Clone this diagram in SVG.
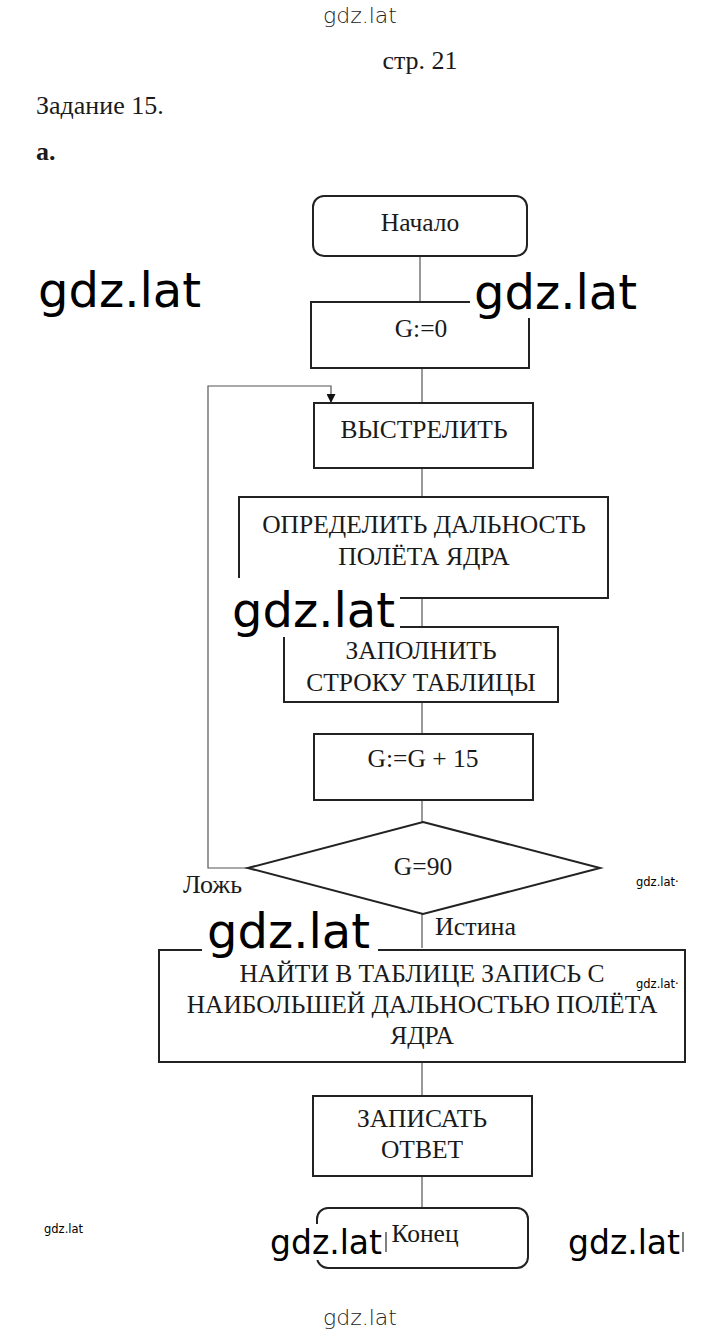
<svg xmlns="http://www.w3.org/2000/svg" width="720" height="1333" viewBox="0 0 720 1333">
<style>
.box{fill:#fff;stroke:#222;stroke-width:2}
.ln{fill:none;stroke:#555;stroke-width:1.2}
.t{font-family:"Liberation Serif","Times New Roman",serif;font-size:25.5px;fill:#1a1a1a;text-anchor:middle}
.tl{font-family:"Liberation Serif","Times New Roman",serif;font-size:26px;fill:#1a1a1a}
.wm{font-family:"DejaVu Sans",sans-serif;font-size:48px;fill:#000}
.wmb{font-family:"DejaVu Sans",sans-serif;font-size:33px;fill:#000}
.wms{font-family:"DejaVu Sans",sans-serif;font-size:11.5px;fill:#000}
.wmt{font-family:"DejaVu Sans",sans-serif;font-size:22px;fill:#222;font-weight:300}
</style>
<defs>
<marker id="arr" viewBox="0 0 10 10" refX="10" refY="5" markerWidth="9" markerHeight="9" markerUnits="userSpaceOnUse" orient="auto">
<path d="M0,0 L10,5 L0,10 Z" fill="#111"/>
</marker>
</defs>
<rect width="720" height="1333" fill="#fff"/>

<g id="header">
<text class="wmt" x="360" y="23" text-anchor="middle">gdz.lat</text>
<text class="tl" x="420" y="69" text-anchor="middle">стр. 21</text>
<text class="tl" x="36" y="114">Задание 15.</text>
<text class="tl" x="36" y="160" font-weight="bold">а.</text>
</g>

<g id="connectors">
<line class="ln" x1="420" y1="256" x2="420" y2="302"/>
<line class="ln" x1="422" y1="368" x2="422" y2="403"/>
<line class="ln" x1="422" y1="468" x2="422" y2="497"/>
<line class="ln" x1="422" y1="598" x2="422" y2="627"/>
<line class="ln" x1="422" y1="702" x2="422" y2="734"/>
<line class="ln" x1="422" y1="800" x2="422" y2="822"/>
<line class="ln" x1="422" y1="914" x2="422" y2="948"/>
<line class="ln" x1="422" y1="1062" x2="422" y2="1096"/>
<line class="ln" x1="422" y1="1176" x2="422" y2="1208"/>
<polyline class="ln" points="248,868 208,868 208,386 331,386 331,403" marker-end="url(#arr)"/>
</g>

<g id="start">
<rect class="box" x="313" y="196" width="214" height="60" rx="11"/>
<text class="t" x="420" y="231">Начало</text>
</g>
<g id="init">
<rect class="box" x="311" y="302" width="218" height="66"/>
<text class="t" x="421" y="337">G:=0</text>
</g>
<g id="shoot">
<rect class="box" x="314" y="403" width="219" height="65"/>
<text class="t" x="424" y="438">ВЫСТРЕЛИТЬ</text>
</g>
<g id="measure">
<rect class="box" x="239" y="497" width="369" height="101"/>
<text class="t" x="424" y="533">ОПРЕДЕЛИТЬ ДАЛЬНОСТЬ</text>
<text class="t" x="424" y="565">ПОЛЁТА ЯДРА</text>
</g>
<g id="fill">
<rect class="box" x="284" y="627" width="274" height="75"/>
<text class="t" x="421" y="659">ЗАПОЛНИТЬ</text>
<text class="t" x="421" y="691">СТРОКУ ТАБЛИЦЫ</text>
</g>
<g id="inc">
<rect class="box" x="314" y="734" width="219" height="66"/>
<text class="t" x="423" y="767">G:=G + 15</text>
</g>
<g id="cond">
<polygon class="box" points="423,822 600,868 423,914 248,868"/>
<text class="t" x="423" y="875">G=90</text>
<text class="tl" x="183" y="893">Ложь</text>
<text class="tl" x="435" y="935">Истина</text>
</g>
<g id="find">
<rect class="box" x="159" y="950" width="526" height="112"/>
<text class="t" x="422" y="982">НАЙТИ В ТАБЛИЦЕ ЗАПИСЬ С</text>
<text class="t" x="422" y="1013">НАИБОЛЬШЕЙ ДАЛЬНОСТЬЮ ПОЛЁТА</text>
<text class="t" x="422" y="1044">ЯДРА</text>
</g>
<g id="write">
<rect class="box" x="313" y="1096" width="219" height="80"/>
<text class="t" x="422" y="1127">ЗАПИСАТЬ</text>
<text class="t" x="422" y="1158">ОТВЕТ</text>
</g>
<g id="end">
<rect class="box" x="317" y="1208" width="211" height="60" rx="11"/>
<text class="t" x="425" y="1242">Конец</text>
</g>

<g id="watermarks">
<text class="wm" x="38" y="307">gdz.lat</text>
<rect x="470" y="268" width="176" height="50" fill="#fff"/>
<text class="wm" x="474" y="309">gdz.lat</text>
<rect x="228" y="578" width="172" height="59" fill="#fff"/>
<text class="wm" x="232" y="627">gdz.lat</text>
<rect x="202" y="903" width="176" height="54" fill="#fff"/>
<text class="wm" x="207" y="948">gdz.lat</text>
<rect x="267" y="1224" width="120" height="36" fill="#fff"/>
<text class="wmb" x="270" y="1254">gdz.lat</text>
<line x1="386" y1="1232" x2="386" y2="1252" stroke="#000" stroke-width="1"/>
<text class="wmb" x="568" y="1254">gdz.lat</text>
<line x1="683" y1="1232" x2="683" y2="1252" stroke="#000" stroke-width="1"/>
<text class="wms" x="636" y="886">gdz.lat·</text>
<text class="wms" x="636" y="988">gdz.lat·</text>
<text class="wms" x="44" y="1233">gdz.lat</text>
<text class="wmt" x="360" y="1325" text-anchor="middle">gdz.lat</text>
</g>
</svg>
